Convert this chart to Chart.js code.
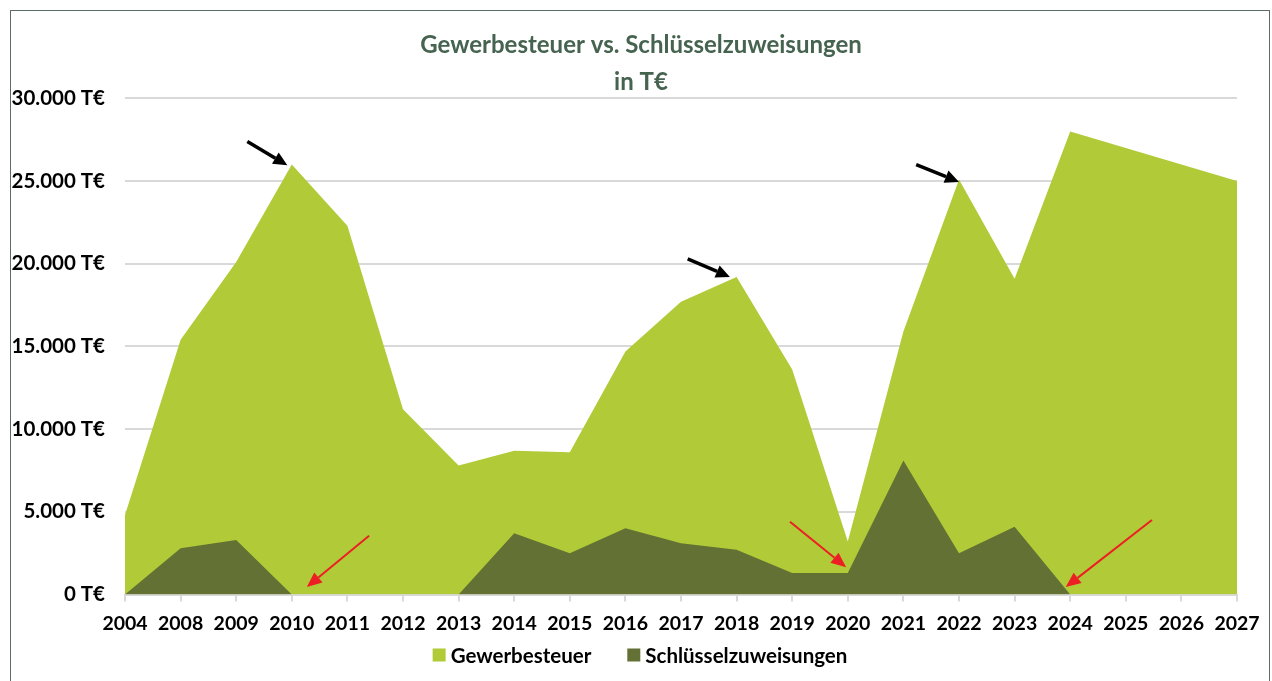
<!DOCTYPE html>
<html>
<head>
<meta charset="utf-8">
<script src="https://cdn.jsdelivr.net/npm/chart.js@4.4.1/dist/chart.umd.min.js"></script>
<style>
  html, body { margin: 0; padding: 0; background: #fff; }
  #wrap { position: absolute; left: 0; top: 0; width: 1272px; height: 681px; }
  #frame { position: absolute; left: 10px; top: 10px; width: 1258px; height: 700px; border: 1px solid #5b6b66; pointer-events: none; }
</style>
</head>
<body>
<div id="wrap"><canvas id="c" width="1272" height="681"></canvas></div>
<div id="frame"></div>
<script>
// ---- data ----
const years = ['2004','2008','2009','2010','2011','2012','2013','2014','2015','2016','2017','2018','2019','2020','2021','2022','2023','2024','2025','2026','2027'];
const gewerbesteuer = [4800,15400,20100,26000,22300,11200,7800,8700,8600,14700,17700,19200,13600,3200,15900,25100,19100,28000,27000,26000,25000];
const schluesselzuweisungen = [0,2800,3300,0,0,0,0,3700,2500,4000,3100,2700,1300,1300,8100,2500,4100,0,0,0,0];
const seriesNames = ['Gewerbesteuer','Schlüsselzuweisungen'];
const titleLines = ['Gewerbesteuer vs. Schlüsselzuweisungen','in T€'];
const yTicks = [0,5000,10000,15000,20000,25000,30000];
const yTickLabels = ['0 T€','5.000 T€','10.000 T€','15.000 T€','20.000 T€','25.000 T€','30.000 T€'];
// annotation arrows in data units: [fromIndex, fromValue, toIndex, toValue]
const blackArrows = [[2.2,27400,2.92,25950],[10.12,20300,10.88,19200],[14.23,26000,15.0,24950]];
const redArrows = [[4.39,3550,3.27,450],[11.96,4400,12.97,1650],[18.47,4500,16.92,450]];

const colors = { light: '#b0cb37', dark: '#637234', title: '#45634f', grid: '#d9d9d9' };
const FONT = 'Lato';

function drawArrow(ctx, x1, y1, x2, y2, color, lw, headLen, headW) {
  const ang = Math.atan2(y2 - y1, x2 - x1);
  const bx = x2 - headLen * Math.cos(ang), by = y2 - headLen * Math.sin(ang);
  ctx.save();
  ctx.strokeStyle = color; ctx.fillStyle = color; ctx.lineWidth = lw; ctx.lineCap = 'butt';
  ctx.beginPath(); ctx.moveTo(x1, y1); ctx.lineTo(bx, by); ctx.stroke();
  ctx.beginPath();
  ctx.moveTo(x2, y2);
  ctx.lineTo(bx + headW / 2 * Math.sin(ang), by - headW / 2 * Math.cos(ang));
  ctx.lineTo(bx - headW / 2 * Math.sin(ang), by + headW / 2 * Math.cos(ang));
  ctx.closePath(); ctx.fill();
  ctx.restore();
}

const arrowPlugin = {
  id: 'arrows',
  afterDatasetsDraw(chart) {
    const xs = chart.scales.x, ys = chart.scales.y, ctx = chart.ctx;
    blackArrows.forEach(a => drawArrow(ctx, xs.getPixelForValue(a[0]), ys.getPixelForValue(a[1]), xs.getPixelForValue(a[2]), ys.getPixelForValue(a[3]), '#000', 3.5, 14, 13));
    redArrows.forEach(a => drawArrow(ctx, xs.getPixelForValue(a[0]), ys.getPixelForValue(a[1]), xs.getPixelForValue(a[2]), ys.getPixelForValue(a[3]), '#ec2024', 2, 15, 13));
  }
};

// title and legend drawn as canvas text, centred like the original
const textPlugin = {
  id: 'texts',
  afterDraw(chart) {
    const ctx = chart.ctx;
    ctx.save();
    ctx.textBaseline = 'middle';
    ctx.textAlign = 'center';
    ctx.fillStyle = colors.title;
    ctx.font = 'bold 24px ' + FONT;
    ctx.fillText(titleLines[0], 641, 45);
    ctx.fillText(titleLines[1], 641, 82);
    // legend
    ctx.font = 'bold 20.5px ' + FONT;
    ctx.textAlign = 'left';
    const box = 13, gap = 5, spacing = 36, cy = 655;
    const items = chart.data.datasets.map(d => ({ text: d.label, color: d.backgroundColor, w: ctx.measureText(d.label).width }));
    let total = 0;
    items.forEach((it, i) => { total += box + gap + it.w + (i ? spacing : 0); });
    let x = 640 - total / 2;
    items.forEach(it => {
      ctx.fillStyle = it.color;
      ctx.fillRect(x, cy - box / 2, box, box);
      ctx.fillStyle = '#000';
      ctx.fillText(it.text, x + box + gap, cy + 1);
      x += box + gap + it.w + spacing;
    });
    ctx.restore();
  }
};

new Chart(document.getElementById('c'), {
  type: 'line',
  data: {
    labels: years,
    datasets: [
      { label: seriesNames[0], data: gewerbesteuer, backgroundColor: colors.light, borderColor: colors.light, borderWidth: 0, pointRadius: 0, fill: 'origin', tension: 0, order: 1 },
      { label: seriesNames[1], data: schluesselzuweisungen, backgroundColor: colors.dark, borderColor: colors.dark, borderWidth: 0, pointRadius: 0, fill: 'origin', tension: 0, order: 0 }
    ]
  },
  options: {
    responsive: false,
    animation: false,
    devicePixelRatio: 1,
    layout: { padding: { left: 8, right: 35, top: 98.4, bottom: 45.5 } },
    plugins: {
      title: { display: false },
      legend: { display: false },
      tooltip: { enabled: false }
    },
    scales: {
      x: {
        offset: false,
        grid: { display: true, drawOnChartArea: false, drawTicks: true, tickLength: 7, color: colors.grid, lineWidth: 2, offset: false },
        border: { display: true, color: colors.grid, width: 2 },
        ticks: { color: '#000', padding: 11, autoSkip: false, maxRotation: 0, font: { family: FONT, size: 19.5, weight: 'bold' } },
        afterFit(scale) { scale.height = 41; }
      },
      y: {
        min: 0, max: 30000,
        afterBuildTicks(scale) { scale.ticks = yTicks.map(v => ({ value: v })); },
        grid: { color: colors.grid, lineWidth: 2, drawTicks: false },
        border: { display: false },
        ticks: {
          color: '#000', padding: 20,
          font: { family: FONT, size: 20.5, weight: 'bold' },
          callback: (v) => yTickLabels[yTicks.indexOf(v)]
        },
        afterFit(scale) { scale.width = 117; }
      }
    }
  },
  plugins: [arrowPlugin, textPlugin]
});
</script>
</body>
</html>
